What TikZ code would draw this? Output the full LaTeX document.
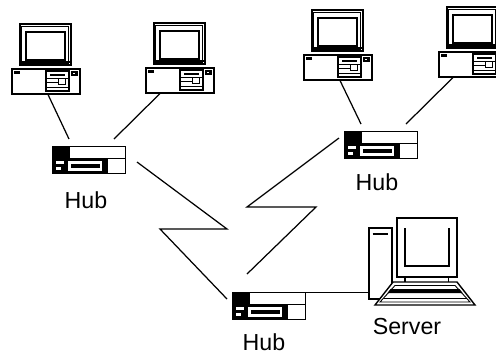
\documentclass[tikz,border=0pt]{standalone}
\usepackage{fontspec}
\setmainfont{Liberation Sans}
\tikzset{
  wire/.style={line width=0.7pt},
  tag/.style={inner sep=0pt, font=\fontsize{13.2}{15}\selectfont},
  pc/.pic={
    % gabinete
    \draw[line width=0.6pt] (0,0) rectangle (68,25);
    \draw[line width=1.1pt] (68,0) -- (68,25) -- (0,25);
    \draw[line width=1.2pt] (2,3.5) -- (8,3.5);
    \draw[line width=0.6pt] (34,2) rectangle (57,22);
    \fill (37.5,4.8) rectangle (52.5,6.6);
    \draw[line width=0.5pt] (34,9.7) -- (57,9.7) (34,13.3) -- (46.7,13.3) (34,18) -- (57,18);
    \draw[line width=0.5pt] (46.7,9.7) rectangle (53.3,15);
    \fill (58.7,1.7) rectangle (66,6.7);
    \fill[white] (61,3.5) rectangle (63,5);
    % monitor
    \draw[line width=1pt] (7.7,-44.7) rectangle (58.7,-4);
    \draw[line width=0.3pt] (9.7,-42.7) rectangle (56.7,-6);
    \draw[line width=1.1pt] (14.3,-36.7) rectangle (53,-9.3);
    \draw[line width=0.9pt] (7.7,-7) -- (58.7,-7);
    \draw[line width=0.5pt] (21,-7) -- (21,-4) (33.7,-7) -- (33.7,-4);
    \coordinate (-l) at (14,25.5);
    \coordinate (-r) at (36,25.5);
  },
  hub/.pic={
    \fill (0,0) rectangle (74,28);
    \fill[white] (18,1.3) rectangle (72.7,11.7);
    \fill[white] (56,13) rectangle (72.7,26.7);
    \fill[white] (16,14.5) rectangle (50,25);
    \fill (19,17.5) rectangle (48,22);
    \fill[white] (4,15) rectangle (12,18);
    \fill[white] (4,20.5) rectangle (9,24);
    \coordinate (-nw) at (17,-7);
    \coordinate (-ne) at (62,-7);
    \coordinate (-e) at (85,16);
    \coordinate (-w) at (-5,7);
    \coordinate (-up) at (15,-18);
    \coordinate (-port) at (74,0.5);
  },
  server/.pic={
    % torre
    \draw[line width=0.8pt] (0,0) rectangle (23,71);
    \draw[line width=1.3pt] (3.5,6) -- (19,6);
    % monitor
    \draw[line width=0.9pt] (28,-10) rectangle (88,49);
    \draw[line width=0.9pt] (36,0) -- (36,38) -- (80,38) -- (80,0);
    \draw[line width=0.6pt] (36,49) -- (36,55) (79.5,49) -- (79.5,55);
    % teclado
    \filldraw[fill=white, line width=0.8pt] (24,54) -- (88,54) -- (106,77) -- (6,77) -- cycle;
    \draw[line width=0.5pt] (26,57.5) -- (86,57.5) -- (101,74) -- (11,74) -- cycle;
    \fill (21.5,61) -- (90.5,61) -- (93.6,65) -- (18.5,65) -- cycle;
    \draw[line width=0.5pt] (14.5,70.3) -- (97.5,70.3);
    \coordinate (-port) at (0,64.5);
  },
}

\begin{document}
\begin{tikzpicture}[x=0.02cm, y=-0.02cm]
    \useasboundingbox (0,0) rectangle (496,353);
    \clip (0,0) rectangle (496,353);
    % Computadores
    \pic (pc1) at (12,69)  {pc};
    \pic (pc2) at (146,68) {pc};
    \pic (pc3) at (304,55) {pc};
    \pic (pc4) at (439,52) {pc};
    % Hubs e servidor
    \pic (h1)  at (52,146)  {hub};
    \pic (h2)  at (344,131) {hub};
    \pic (h3)  at (232,292) {hub};
    \pic (srv) at (369,228) {server};
    \node[tag] (t1) at (86,200)  {Hub};
    \node[tag] (t2) at (377,182) {Hub};
    \node[tag] (t3) at (264,342) {Hub};
    \node[tag] (t4) at (407,327) {Server};
    % Ligacoes
    \draw[wire] (pc1-r) -- (h1-nw);
    \draw[wire] (pc2-l) -- (h1-ne);
    \draw[wire] (pc3-r) -- (h2-nw);
    \draw[wire] (pc4-l) -- (h2-ne);
    \draw[wire] (h1-e) -- ++(90,67) -- ++(-67,0) -- (h3-w);
    \draw[wire] (h3-up) -- ++(69,-67) -- ++(-69,0) -- (h2-w);
    \draw[wire] (h3-port) -- (srv-port);
\end{tikzpicture}
\end{document}
